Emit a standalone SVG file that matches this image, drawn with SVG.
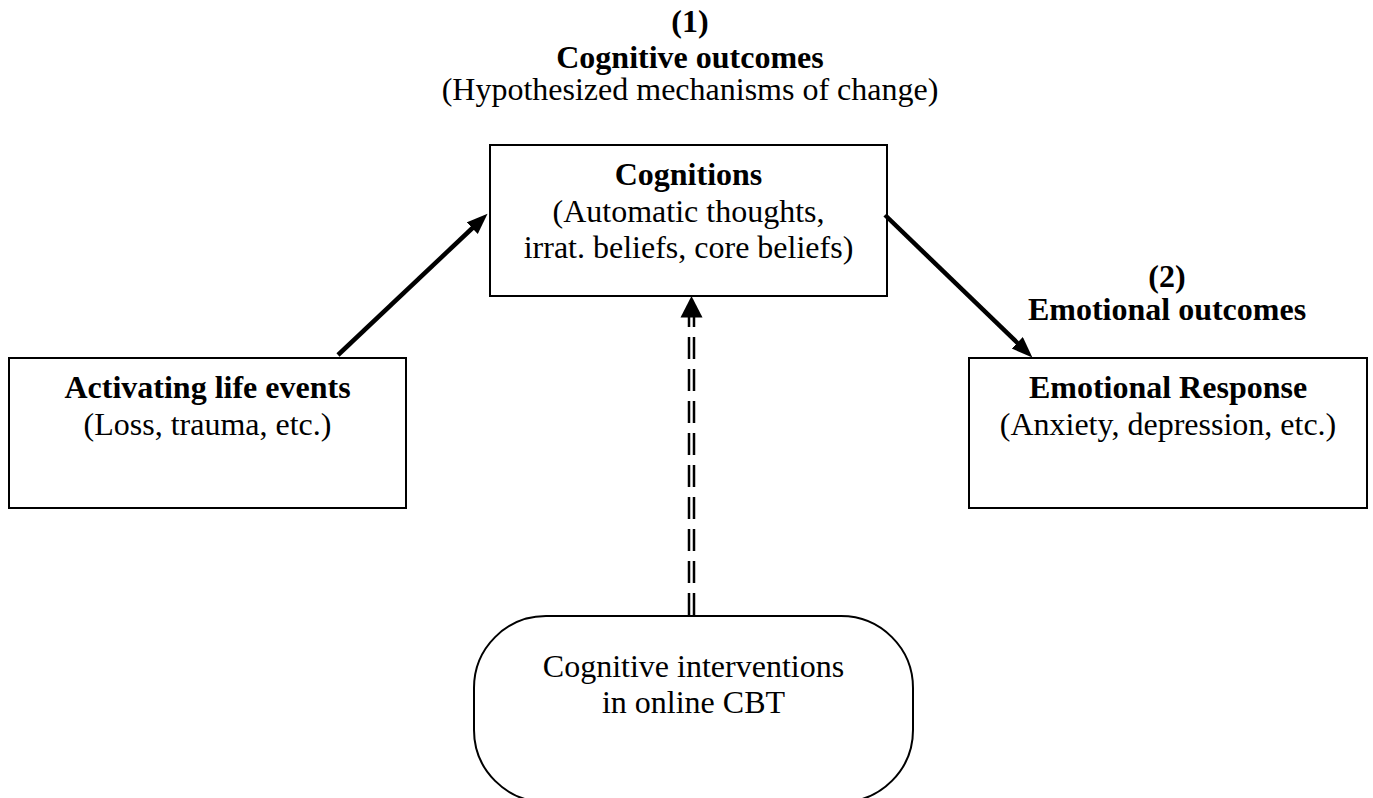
<svg xmlns="http://www.w3.org/2000/svg" width="1373" height="798" viewBox="0 0 1373 798">
<style>
.t{font-family:"Liberation Serif","Times New Roman",serif;font-size:32px;fill:#000;text-anchor:middle}
.b{font-weight:bold}
.box{fill:#fff;stroke:#000;stroke-width:2}
.arr{stroke:#000;stroke-width:4.5;fill:none}
.dash{stroke:#000;stroke-width:2.5;fill:none;stroke-dasharray:22 10}
</style>
<defs>
<marker id="ah" markerUnits="userSpaceOnUse" markerWidth="22" markerHeight="18" refX="1" refY="8" orient="auto">
<path d="M0,0 L21,8 L0,16 z" fill="#000"/>
</marker>
</defs>
<rect width="1373" height="798" fill="#fff"/>
<g id="heading1">
<text class="t b" x="690" y="32">(1)</text>
<text class="t b" x="690" y="68">Cognitive outcomes</text>
<text class="t" x="690" y="100">(Hypothesized mechanisms of change)</text>
</g>
<g id="heading2">
<text class="t b" x="1167" y="287">(2)</text>
<text class="t b" x="1167" y="320">Emotional outcomes</text>
</g>
<g id="cognitions">
<rect class="box" x="490" y="145" width="397" height="151"/>
<text class="t b" x="688.5" y="185">Cognitions</text>
<text class="t" x="688.5" y="222">(Automatic thoughts,</text>
<text class="t" x="688.5" y="258">irrat. beliefs, core beliefs)</text>
</g>
<g id="activating">
<rect class="box" x="9" y="358" width="397" height="150"/>
<text class="t b" x="207.5" y="398">Activating life events</text>
<text class="t" x="207.5" y="435">(Loss, trauma, etc.)</text>
</g>
<g id="emotional">
<rect class="box" x="969" y="358" width="398" height="150"/>
<text class="t b" x="1168" y="398">Emotional Response</text>
<text class="t" x="1168" y="435">(Anxiety, depression, etc.)</text>
</g>
<g id="interventions">
<rect class="box" x="474" y="616" width="439" height="186" rx="72" ry="72"/>
<text class="t" x="693.5" y="677">Cognitive interventions</text>
<text class="t" x="693.5" y="713">in online CBT</text>
</g>
<g id="connectors">
<line class="arr" x1="338" y1="355" x2="473" y2="227.5" marker-end="url(#ah)"/>
<line class="arr" x1="885" y1="215" x2="1018" y2="343.5" marker-end="url(#ah)"/>
<line class="dash" x1="689" y1="615" x2="689" y2="317"/>
<line class="dash" x1="694" y1="615" x2="694" y2="317"/>
<polygon points="691.5,296 680.5,317.5 702.5,317.5" fill="#000"/>
</g>
</svg>
